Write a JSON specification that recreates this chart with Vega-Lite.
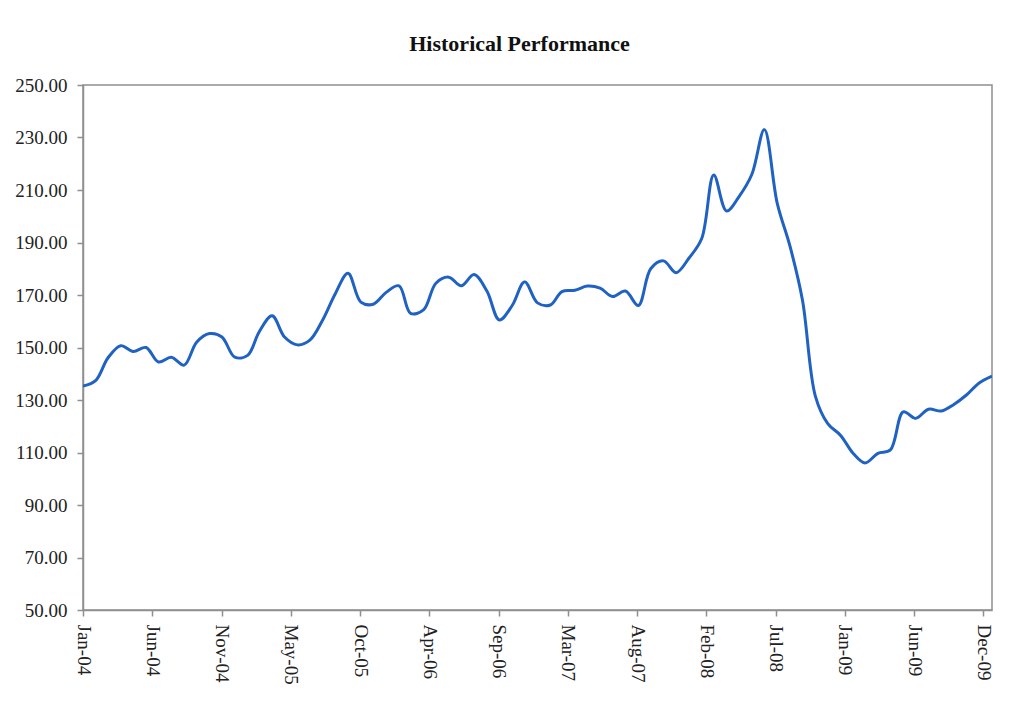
{
  "$schema": "https://vega.github.io/schema/vega-lite/v6.json",
  "width": 909,
  "height": 525,
  "autosize": {"type": "none"},
  "padding": {"left": 83, "top": 85, "right": 21, "bottom": 104},
  "background": "white",
  "title": {
    "text": "Historical Performance",
    "font": "Liberation Serif",
    "fontSize": 22,
    "fontWeight": "bold",
    "color": "#111111",
    "anchor": "middle",
    "dx": -18,
    "offset": 20
  },
  "config": {
    "view": {"stroke": "#8f8f8f", "strokeWidth": 1.5},
    "axis": {
      "labelFont": "Liberation Serif",
      "labelFontSize": 19,
      "labelColor": "#222222",
      "domainColor": "#8f8f8f",
      "domainWidth": 1.5,
      "tickColor": "#8f8f8f",
      "tickWidth": 1.5,
      "tickSize": 6,
      "grid": false,
      "title": null
    }
  },
  "data": {
    "values": [
      {"date": "2004-01-01T00:00:00", "value": 135.3},
      {"date": "2004-02-01T00:00:00", "value": 137.5},
      {"date": "2004-03-01T00:00:00", "value": 146.0},
      {"date": "2004-04-01T00:00:00", "value": 150.7},
      {"date": "2004-05-01T00:00:00", "value": 148.5},
      {"date": "2004-06-01T00:00:00", "value": 150.0},
      {"date": "2004-07-01T00:00:00", "value": 144.5},
      {"date": "2004-08-01T00:00:00", "value": 146.3},
      {"date": "2004-09-01T00:00:00", "value": 143.3},
      {"date": "2004-10-01T00:00:00", "value": 152.0},
      {"date": "2004-11-01T00:00:00", "value": 155.3},
      {"date": "2004-12-01T00:00:00", "value": 154.0},
      {"date": "2005-01-01T00:00:00", "value": 146.3},
      {"date": "2005-02-01T00:00:00", "value": 147.0},
      {"date": "2005-03-01T00:00:00", "value": 156.0},
      {"date": "2005-04-01T00:00:00", "value": 162.1},
      {"date": "2005-05-01T00:00:00", "value": 154.0},
      {"date": "2005-06-01T00:00:00", "value": 151.0},
      {"date": "2005-07-01T00:00:00", "value": 152.8},
      {"date": "2005-08-01T00:00:00", "value": 160.5},
      {"date": "2005-09-01T00:00:00", "value": 170.7},
      {"date": "2005-10-01T00:00:00", "value": 178.3},
      {"date": "2005-11-01T00:00:00", "value": 167.3},
      {"date": "2005-12-01T00:00:00", "value": 166.5},
      {"date": "2006-01-01T00:00:00", "value": 171.0},
      {"date": "2006-02-01T00:00:00", "value": 173.5},
      {"date": "2006-03-01T00:00:00", "value": 163.0},
      {"date": "2006-04-01T00:00:00", "value": 164.3},
      {"date": "2006-05-01T00:00:00", "value": 174.5},
      {"date": "2006-06-01T00:00:00", "value": 176.8},
      {"date": "2006-07-01T00:00:00", "value": 173.5},
      {"date": "2006-08-01T00:00:00", "value": 177.8},
      {"date": "2006-09-01T00:00:00", "value": 171.5},
      {"date": "2006-10-01T00:00:00", "value": 160.5},
      {"date": "2006-11-01T00:00:00", "value": 166.0},
      {"date": "2006-12-01T00:00:00", "value": 175.0},
      {"date": "2007-01-01T00:00:00", "value": 167.0},
      {"date": "2007-02-01T00:00:00", "value": 166.2},
      {"date": "2007-03-01T00:00:00", "value": 171.3},
      {"date": "2007-04-01T00:00:00", "value": 171.8},
      {"date": "2007-05-01T00:00:00", "value": 173.4},
      {"date": "2007-06-01T00:00:00", "value": 172.6},
      {"date": "2007-07-01T00:00:00", "value": 169.4},
      {"date": "2007-08-01T00:00:00", "value": 171.5},
      {"date": "2007-09-01T00:00:00", "value": 166.0},
      {"date": "2007-10-01T00:00:00", "value": 180.0},
      {"date": "2007-11-01T00:00:00", "value": 183.0},
      {"date": "2007-12-01T00:00:00", "value": 178.5},
      {"date": "2008-01-01T00:00:00", "value": 184.0},
      {"date": "2008-02-01T00:00:00", "value": 191.5},
      {"date": "2008-03-01T00:00:00", "value": 215.7},
      {"date": "2008-04-01T00:00:00", "value": 202.0},
      {"date": "2008-05-01T00:00:00", "value": 207.5},
      {"date": "2008-06-01T00:00:00", "value": 216.0},
      {"date": "2008-07-01T00:00:00", "value": 233.0},
      {"date": "2008-08-01T00:00:00", "value": 205.0},
      {"date": "2008-09-01T00:00:00", "value": 188.5},
      {"date": "2008-10-01T00:00:00", "value": 168.0},
      {"date": "2008-11-01T00:00:00", "value": 131.5},
      {"date": "2008-12-01T00:00:00", "value": 121.0},
      {"date": "2009-01-01T00:00:00", "value": 116.5},
      {"date": "2009-02-01T00:00:00", "value": 109.5},
      {"date": "2009-03-01T00:00:00", "value": 106.0},
      {"date": "2009-04-01T00:00:00", "value": 109.7},
      {"date": "2009-05-01T00:00:00", "value": 111.0},
      {"date": "2009-06-01T00:00:00", "value": 125.5},
      {"date": "2009-07-01T00:00:00", "value": 123.0},
      {"date": "2009-08-01T00:00:00", "value": 126.5},
      {"date": "2009-09-01T00:00:00", "value": 125.8},
      {"date": "2009-10-01T00:00:00", "value": 128.3},
      {"date": "2009-11-01T00:00:00", "value": 132.0},
      {"date": "2009-12-01T00:00:00", "value": 136.5},
      {"date": "2010-01-01T00:00:00", "value": 139.1}
    ]
  },
  "mark": {
    "type": "line",
    "interpolate": "catmull-rom",
    "color": "#1f62c4",
    "strokeWidth": 3,
    "clip": true
  },
  "encoding": {
    "x": {
      "field": "date",
      "type": "temporal",
      "scale": {
        "domain": [
          {"year": 2004, "month": 1, "date": 1},
          {"year": 2010, "month": 1, "date": 1}
        ]
      },
      "axis": {
        "format": "%b-%y",
        "labelAngle": 90,
        "labelPadding": 8,
        "values": [
          {"year": 2004, "month": 1, "date": 1},
          {"year": 2004, "month": 6, "date": 16},
          {"year": 2004, "month": 11, "date": 30},
          {"year": 2005, "month": 5, "date": 16},
          {"year": 2005, "month": 10, "date": 30},
          {"year": 2006, "month": 4, "date": 15},
          {"year": 2006, "month": 9, "date": 29},
          {"year": 2007, "month": 3, "date": 15},
          {"year": 2007, "month": 8, "date": 29},
          {"year": 2008, "month": 2, "date": 12},
          {"year": 2008, "month": 7, "date": 28},
          {"year": 2009, "month": 1, "date": 11},
          {"year": 2009, "month": 6, "date": 27},
          {"year": 2009, "month": 12, "date": 11}
        ]
      }
    },
    "y": {
      "field": "value",
      "type": "quantitative",
      "scale": {"domain": [50, 250], "nice": false, "zero": false},
      "axis": {
        "values": [50, 70, 90, 110, 130, 150, 170, 190, 210, 230, 250],
        "format": ".2f",
        "labelPadding": 10
      }
    }
  }
}
